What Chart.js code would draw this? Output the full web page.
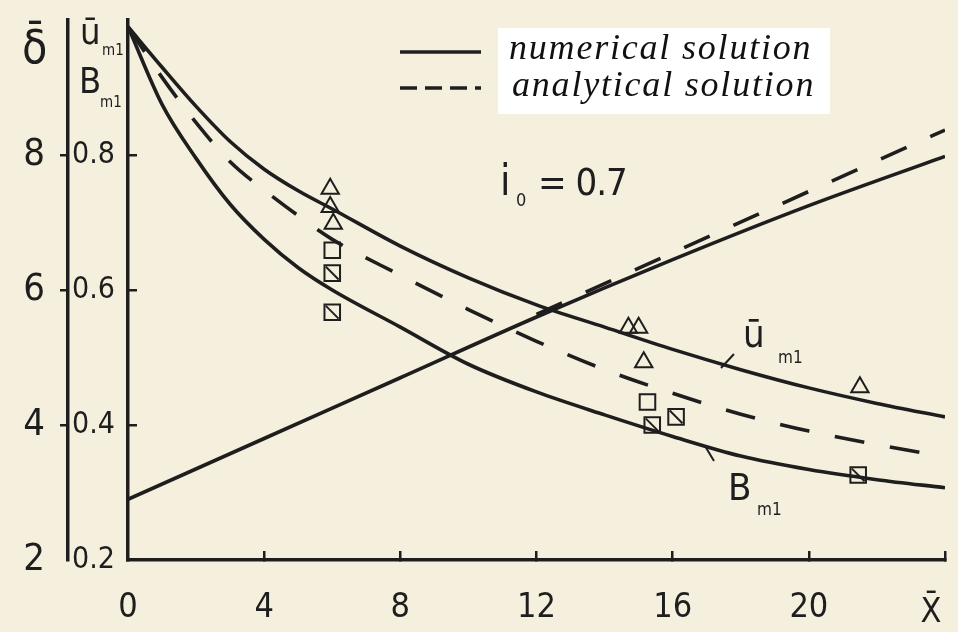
<!DOCTYPE html>
<html>
<head>
<meta charset="utf-8">
<script src="https://cdn.jsdelivr.net/npm/chart.js@4.4.1/dist/chart.umd.min.js"></script>
<style>
html,body{margin:0;padding:0;background:#f5f0de;}
#wrap{width:958px;height:632px;position:relative;}
</style>
</head>
<body>
<div id="wrap"><canvas id="c"></canvas></div>
<script>
// ---------- data ----------
const xCurve        = [0, 1, 2, 3, 4, 5, 6, 8, 10, 12, 14, 16, 18, 20, 22, 24];
const uNumerical    = [0.99, 0.93, 0.872, 0.82, 0.779, 0.747, 0.72, 0.665, 0.618, 0.578, 0.545, 0.512, 0.482, 0.455, 0.432, 0.412];
const bNumerical    = [0.99, 0.875, 0.795, 0.727, 0.675, 0.633, 0.60, 0.545, 0.49, 0.449, 0.415, 0.383, 0.354, 0.334, 0.319, 0.307];
const umAnalytical  = [0.99, 0.915, 0.848, 0.79, 0.748, 0.71, 0.675, 0.622, 0.571, 0.524, 0.482, 0.447, 0.416, 0.391, 0.371, 0.353];

const xDelta          = [0, 4, 8, 12, 16, 20, 24];
const deltaNumerical  = [2.9, 3.8, 4.7, 5.6, 6.45, 7.25, 7.98];
const xDeltaAnalytic  = [12, 24];
const deltaAnalytic   = [5.64, 8.37];

const triX   = [5.94, 5.94, 6.03, 14.7, 15.0, 15.15, 21.5];
const triU   = [0.750, 0.723, 0.698, 0.544, 0.544, 0.493, 0.456];
const sqX    = [6.0, 15.26];
const sqB    = [0.659, 0.434];
const sqXX   = [6.0, 6.0, 15.4, 16.1, 21.45];
const sqBX   = [0.625, 0.567, 0.40, 0.412, 0.326];

const xTickLabels     = ['0', '4', '8', '12', '16', '20'];
const deltaTickLabels = ['2', '4', '6', '8'];
const uTickLabels     = ['0.2', '0.4', '0.6', '0.8'];
const legendLabels    = ['numerical solution', 'analytical solution'];

// ---------- styling ----------
const ink = '#1e1e1e';
const paperColor = '#f5f0de';
const handFont = '"Liberation Sans Narrow", "DejaVu Sans Condensed", "DejaVu Sans", sans-serif';
const pts = (xs, ys) => xs.map((x, i) => ({x, y: ys[i]}));

const lineDs = (label, xs, ys, axis, dash) => ({
  type: 'line', label, data: pts(xs, ys), yAxisID: axis,
  borderColor: ink, borderWidth: 3.6, borderDash: dash || [],
  pointRadius: 0, fill: false, cubicInterpolationMode: 'monotone'
});
const markDs = (label, xs, ys, style, r, rot) => ({
  type: 'scatter', label, data: pts(xs, ys), yAxisID: 'yU',
  pointStyle: style, pointRadius: r, pointRotation: rot || 0,
  borderColor: ink, pointBorderColor: ink, pointBackgroundColor: 'rgba(0,0,0,0)',
  pointBorderWidth: 2, showLine: false
});

const paperPlugin = {
  id: 'paper',
  beforeDraw(chart) {
    const c = chart.ctx;
    c.save();
    c.fillStyle = paperColor;
    c.fillRect(0, 0, chart.width, chart.height);
    c.restore();
  },
  afterDraw(chart) {
    const c = chart.ctx;
    c.save();
    // legend
    c.fillStyle = '#ffffff';
    c.fillRect(498, 28, 332, 86);
    c.strokeStyle = ink; c.lineWidth = 3.5;
    c.beginPath(); c.moveTo(400, 52); c.lineTo(481, 52); c.stroke();
    c.setLineDash([17, 8]);
    c.beginPath(); c.moveTo(400, 88); c.lineTo(481, 88); c.stroke();
    c.setLineDash([]);
    c.fillStyle = '#111';
    c.textAlign = 'left'; c.textBaseline = 'alphabetic';
    c.font = 'italic 36px "Liberation Serif", serif';
    c.letterSpacing = '1.8px';
    c.fillText(legendLabels[0], 509, 59);
    c.fillText(legendLabels[1], 512, 96);
    c.letterSpacing = '0px';

    // axis symbols
    c.fillStyle = ink;
    c.font = '46px ' + handFont;
    c.fillText('δ̄', 22, 63);
    c.font = '36px ' + handFont;
    c.fillText('ū', 80, 44);
    c.fillText('B', 79, 93);
    c.font = '15px ' + handFont;
    c.fillText('m1', 102, 55);
    c.fillText('m1', 100, 107);
    c.font = '34px ' + handFont;
    c.textAlign = 'center';
    c.fillText('X̄', 931, 622);
    c.textAlign = 'left';

    // curve labels
    c.font = '38px ' + handFont;
    c.fillText('ū', 743, 347);
    c.fillText('B', 728, 500);
    c.font = '17px ' + handFont;
    c.fillText('m1', 778, 363);
    c.fillText('m1', 757, 515);
    c.lineWidth = 2;
    c.beginPath(); c.moveTo(721, 368); c.lineTo(734, 354); c.stroke();
    c.beginPath(); c.moveTo(705, 446); c.lineTo(714, 461); c.stroke();

    // parameter
    c.font = '42px ' + handFont;
    c.fillText('i', 500, 195);
    c.font = '18px ' + handFont;
    c.fillText('0', 516, 206);
    c.font = '38px ' + handFont;
    c.letterSpacing = '-1px';
    c.fillText('= 0.7', 538, 195);
    c.letterSpacing = '0px';
    c.restore();
  }
};

const hideAt = (vals) => (ctx) => (ctx.tick && vals.some(v => Math.abs(ctx.tick.value - v) < 1e-6)) ? 'rgba(0,0,0,0)' : ink;
const noPad = (s) => { s.paddingLeft = 0; s.paddingRight = 0; s.paddingTop = 0; s.paddingBottom = 0; };

new Chart(document.getElementById('c'), {
  data: {
    datasets: [
      markDs('ū experiment', triX, triU, 'triangle', 10),
      markDs('B experiment', sqX, sqB, 'rect', 11),
      markDs('B experiment (hatched)', sqXX, sqBX, 'rect', 11),
      markDs('B experiment hatch', sqXX, sqBX, 'line', 9, 45),
      lineDs('ū numerical', xCurve, uNumerical, 'yU'),
      lineDs('B numerical', xCurve, bNumerical, 'yU'),
      lineDs('analytical', xCurve, umAnalytical, 'yU', [30, 26]),
      lineDs('δ numerical', xDelta, deltaNumerical, 'yD'),
      lineDs('δ analytical', xDeltaAnalytic, deltaAnalytic, 'yD', [28, 26])
    ]
  },
  options: {
    responsive: true, maintainAspectRatio: false, animation: false,
    layout: { padding: { top: 20, right: 12, left: 0, bottom: 0 } },
    plugins: { legend: { display: false }, tooltip: { enabled: false } },
    scales: {
      x: {
        type: 'linear', position: 'bottom', min: 0, max: 24,
        afterFit: s => { s.height = 72; noPad(s); },
        afterBuildTicks: s => { s.ticks = [0, 4, 8, 12, 16, 20, 24].map(v => ({value: v})); },
        ticks: {
          stepSize: 4, autoSkip: false, maxRotation: 0, padding: 37, color: ink,
          font: { family: handFont, size: 34 },
          callback: (v) => { const i = [0, 4, 8, 12, 16, 20].indexOf(v); return i >= 0 ? xTickLabels[i] : ''; }
        },
        grid: { drawOnChartArea: false, drawTicks: true, tickLength: -9, lineWidth: 2.5, tickColor: hideAt([0]) },
        border: { display: true, color: ink, width: 3.5 }
      },
      yU: {
        type: 'linear', position: 'left', min: 0.2, max: 1.0, weight: 0,
        afterFit: s => { s.width = 60; noPad(s); },
        afterBuildTicks: s => { s.ticks = [0.2, 0.4, 0.6, 0.8, 1.0].map(v => ({value: v})); },
        ticks: {
          padding: 22, color: ink, font: { family: handFont, size: 30 },
          callback: (v) => { const i = [0.2, 0.4, 0.6, 0.8].findIndex(t => Math.abs(t - v) < 1e-6); return i >= 0 ? uTickLabels[i] : ''; }
        },
        grid: { drawOnChartArea: false, drawTicks: true, tickLength: -9, lineWidth: 2.5, tickColor: hideAt([0.2, 1.0]) },
        border: { display: true, color: ink, width: 3.5 }
      },
      yD: {
        type: 'linear', position: 'left', min: 2, max: 10, weight: 1,
        afterFit: s => { s.width = 68; noPad(s); },
        afterBuildTicks: s => { s.ticks = [2, 4, 6, 8, 10].map(v => ({value: v})); },
        ticks: {
          padding: 15, color: ink, font: { family: handFont, size: 38 },
          callback: (v) => { const i = [2, 4, 6, 8].indexOf(v); return i >= 0 ? deltaTickLabels[i] : ''; }
        },
        grid: { drawOnChartArea: false, drawTicks: true, tickLength: 8, lineWidth: 2.5, tickColor: hideAt([2, 10]) },
        border: { display: true, color: ink, width: 3.5 }
      }
    }
  },
  plugins: [paperPlugin]
});
</script>
</body>
</html>
